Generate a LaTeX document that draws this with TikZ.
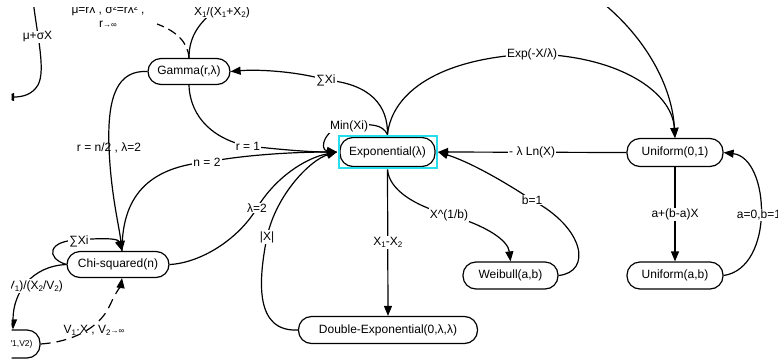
\documentclass[tikz,border=0pt]{standalone}
\usepackage{fontspec}
\setmainfont{Liberation Sans}
\usetikzlibrary{arrows.meta,calc}
\newcommand\lsub[1]{\raisebox{-0.35ex}{\fontsize{8}{8}\selectfont #1}}
\newcommand\lsm[1]{{\fontsize{8}{8}\selectfont #1}}
\definecolor{hilite}{RGB}{38,222,235}
\begin{document}
\begin{tikzpicture}[x=1pt,y=-1pt,
  font=\fontsize{12}{14}\selectfont,
  dist/.style={draw, line width=1.2pt, rounded corners=13pt, minimum height=27pt, inner sep=0pt},
  conn/.style={line width=1.2pt, -{Triangle[length=10pt,width=8pt]}},
  plain/.style={line width=1.2pt},
  lbl/.style={fill=white, inner sep=1pt},
  lblnf/.style={inner sep=1pt},
  dsh/.style={dash pattern=on 10pt off 6pt},
]
\useasboundingbox (0,0) rectangle (778,362);
\fill[white] (0,0) rectangle (778,362);
\clip (11.5,7) rectangle (778,362);

% nodes
\node[dist, minimum width=82pt, minimum height=26pt] (gamma) at (189,71.5) {Gamma(r,λ)};
\node[dist, minimum width=95pt, minimum height=29pt, outer sep=3pt] (exp) at (387.5,152) {Exponential(λ)};
\node[dist, minimum width=96pt, minimum height=28pt] (u01) at (675,152.5) {Uniform(0,1)};
\node[dist, minimum width=102pt, minimum height=26pt] (chi) at (118,264.5) {Chi-squared(n)};
\node[dist, minimum width=95pt] (wei) at (510.5,275.5) {Weibull(a,b)};
\node[dist, minimum width=96pt] (uab) at (675,275.5) {Uniform(a,b)};
\node[dist, minimum width=179pt, minimum height=27pt] (dexp) at (388,330) {Double-Exponential(0,λ,λ)};
\node[dist, minimum width=49pt, minimum height=28pt, font=\fontsize{8.5}{10}\selectfont] (fdist) at (15.5,344) {F(V1,V2)};

\draw[hilite, line width=2pt] ($(exp.north west)+(1.5,1.5)$) rectangle ($(exp.south east)+(-1.5,-1.5)$);

% helper coordinates
\coordinate (chitop) at ($(chi.north)+(4,0)$);
\coordinate (chibot) at ($(chi.south)+(4,0)$);
\coordinate (ftop) at ($(fdist.north)+(-2.5,0)$);
\coordinate (topsrc) at (33,0);
\coordinate (normalend) at (4,97);
\coordinate (betaend) at (226,2);
\coordinate (normalgo) at (157,24);
\coordinate (u01src) at (604,4);

% off-picture edges at the top left
\draw[conn] (topsrc) .. controls (37,35) and (46,70) .. (38,85) .. controls (32,95) and (22,97) .. (normalend);
\node[lbl] (lmu) at (37.5,37) {μ+σX};
\draw[plain, dash pattern=on 9pt off 5pt] (gamma.north) .. controls (188,42) and (176,31) .. (normalgo);
\node[lbl, anchor=base] (lnorm1) at (108,13.5) {μ=rλ , σ²=rλ² ,};
\node[lbl, anchor=base] (lnorm2) at (108,27.5) {r\lsm{→∞}};
\draw[plain] (gamma.north) .. controls (189,35) and (200,20) .. (betaend);
\node[lbl, anchor=base] (lbeta) at (222,15) {X\lsub{1}/(X\lsub{1}+X\lsub{2})};

% Exponential -> Gamma
\draw[conn] (exp.north) .. controls (388,105) and (370,84) .. (326,80) .. controls (300,72) and (260,69) .. (gamma.east);
\node[lbl] at (326,80) {∑Xi};
% Exponential -> Uniform(0,1)
\draw[conn] (exp.north) .. controls (392,92) and (440,58) .. (532,54) .. controls (615,55) and (672,90) .. (u01.north);
\node[lbl] at (532,54) {Exp(-X/λ)};
% from above -> Uniform(0,1)
\draw[conn] (u01src) .. controls (645,38) and (672,85) .. (u01.north);
% Uniform(0,1) -> Exponential
\draw[conn] (u01.west) -- node[lbl]{- λ Ln(X)} (exp.east);
% Exponential -> Weibull
\draw[conn] (exp.south) .. controls (389,190) and (415,206) .. (449,215) .. controls (485,225) and (508,240) .. (wei.north);
\node[lbl] at (449,215) {X\textasciicircum(1/b)};
% Weibull -> Exponential
\draw[conn] (wei.east) .. controls (592,272) and (585,228) .. (532,200) .. controls (505,182) and (470,162) .. (exp.east);
\node[lbl] at (532,200) {b=1};
% Exponential -> Double-Exponential
\draw[conn] (exp.south) -- node[lbl]{X\lsub{1}-X\lsub{2}} (dexp.north);
% Double-Exponential -> Exponential
\draw[conn] (dexp.west) .. controls (255,332) and (258,282) .. (267,237) .. controls (276,195) and (310,160) .. (exp.west);
\node[lbl] at (267,237) {|X|};
% Chi-squared -> Exponential (lambda=2)
\draw[conn] (chi.east) .. controls (200,263) and (238,240) .. (257,208) .. controls (275,178) and (305,158) .. (exp.west);
\node[lbl] at (257,208) {λ=2};
% Chi-squared -> Exponential (n=2)
\draw[conn] (chitop) .. controls (122,205) and (140,168) .. (207,162) .. controls (250,154) and (300,152) .. (exp.west);
\node[lbl] at (207,162) {n = 2};
% Gamma -> Exponential (r=1)
\draw[conn] (gamma.south) .. controls (190,118) and (215,140) .. (248,146) .. controls (285,150) and (310,152) .. (exp.west);
\node[lbl] at (248,146) {r = 1};
% Min loop on Exponential
\draw[conn] (exp.north) .. controls (382,124) and (372,124) .. (349,125) .. controls (325,126) and (318,150) .. (exp.west);
\node[lbl] at (349,126) {Min(Xi)};
% Gamma -> Chi-squared
\draw[conn] (gamma.west) .. controls (118,70) and (107,95) .. (109,148) .. controls (111,195) and (119,225) .. (chitop);
\node[lblnf] at (109,148) {r = n/2 , λ=2};
% Chi-squared loop
\draw[conn] (chi.west) .. controls (45,258) and (48,240) .. (79,240) .. controls (100,238) and (118,238) .. (chitop);
\node[lbl] at (79,241) {∑Xi};
% Chi-squared -> F
\draw[conn] (chi.west) .. controls (32,266) and (13,292) .. (ftop);
\node[lbl] at (25,286) {(X\lsub{1}/V\lsub{1})/(X\lsub{2}/V\lsub{2})};
% F -> Chi-squared (dashed)
\draw[conn, dsh] (fdist.east) .. controls (72,342) and (100,328) .. (110,305) .. controls (116,292) and (121,285) .. (chibot);
\node[lblnf] at (94,330) {V\lsub{1}·X , V\lsub{2}\lsm{→∞}};
% Uniform(0,1) -> Uniform(a,b)
\draw[conn] (u01.south) -- node[lbl]{a+(b-a)X} (uab.north);
% Uniform(a,b) -> Uniform(0,1)
\draw[conn] (uab.east) .. controls (775,268) and (770,158) .. (u01.east);
\node[lbl] at (759,215) {a=0,b=1};
\end{tikzpicture}
\end{document}
